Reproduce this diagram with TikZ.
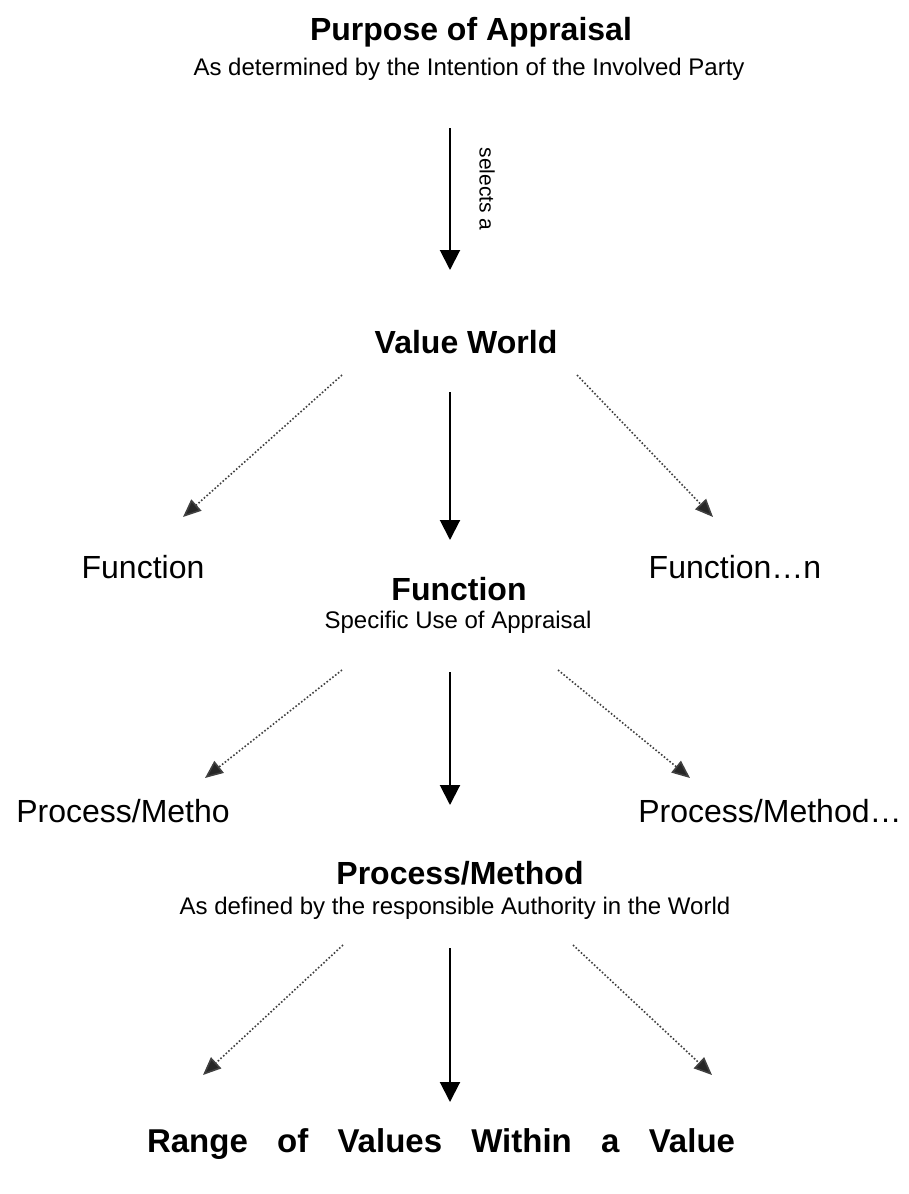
\documentclass[tikz,border=0pt]{standalone}
\usepackage{fontspec}
\setmainfont{Liberation Sans}
\usepackage{tikz}
\usetikzlibrary{arrows.meta}

\begin{document}
\begin{tikzpicture}[x=1pt,y=-1pt,
	heading/.style={font=\fontsize{32}{36}\selectfont\bfseries, inner sep=0pt, anchor=base},
	subline/.style={font=\fontsize{24}{28}\selectfont, inner sep=0pt, anchor=base},
	side/.style={font=\fontsize{32}{36}\selectfont, inner sep=0pt, anchor=base},
	solidarrow/.style={line width=2pt, -{Triangle[width=20pt,length=20pt]}},
	dotarrow/.style={line width=1.6pt, dotted, black!75, -{Triangle[width=15pt,length=18pt,fill=black!85]}}]
\useasboundingbox (0,0) rectangle (909,1194);

% purpose
\node [heading] (purpose) at (471,40) {Purpose of Appraisal};
\node [subline] (purposesub) at (469,75) {As determined by the Intention of the Involved Party};
\coordinate (sel1) at (450,128);
\coordinate (sel2) at (450,270);
\draw [solidarrow] (sel1) -- (sel2);
\node [font=\fontsize{21}{24}\selectfont, rotate=-90, inner sep=0pt] (selects) at (487,189) {selects a};

% value world
\node [heading] (world) at (466,353) {Value World};
\coordinate (w1) at (342,375);  \coordinate (w1e) at (183,517);
\coordinate (w2) at (450,392);  \coordinate (w2e) at (450,540);
\coordinate (w3) at (577,375);  \coordinate (w3e) at (713,517);
\draw [dotarrow] (w1) -- (w1e);
\draw [solidarrow] (w2) -- (w2e);
\draw [dotarrow] (w3) -- (w3e);

% function
\node [side] (funcL) at (143,578) {Function};
\node [side] (funcR) at (735,578) {Function…n};
\node [heading] (func) at (459,600) {Function};
\node [subline] (funcsub) at (458,628) {Specific Use of Appraisal};
\coordinate (f1) at (342,670);  \coordinate (f1e) at (205,778);
\coordinate (f2) at (450,672);  \coordinate (f2e) at (450,805);
\coordinate (f3) at (558,670);  \coordinate (f3e) at (690,778);
\draw [dotarrow] (f1) -- (f1e);
\draw [solidarrow] (f2) -- (f2e);
\draw [dotarrow] (f3) -- (f3e);

% process / method
\node [side] (procL) at (123,822) {Process/Metho};
\node [side] (procR) at (770,822) {Process/Method…};
\node [heading] (proc) at (460,884) {Process/Method};
\node [subline] (procsub) at (455,914) {As defined by the responsible Authority in the World};
\coordinate (m1) at (343,945);  \coordinate (m1e) at (203,1075);
\coordinate (m2) at (450,948);  \coordinate (m2e) at (450,1102);
\coordinate (m3) at (573,945);  \coordinate (m3e) at (712,1075);
\draw [dotarrow] (m1) -- (m1e);
\draw [solidarrow] (m2) -- (m2e);
\draw [dotarrow] (m3) -- (m3e);

% range
\node [heading, font=\fontsize{33}{38}\selectfont\bfseries] (range) at (441,1152) {\makebox[588pt][s]{Range of Values Within a Value}};
\end{tikzpicture}
\end{document}
